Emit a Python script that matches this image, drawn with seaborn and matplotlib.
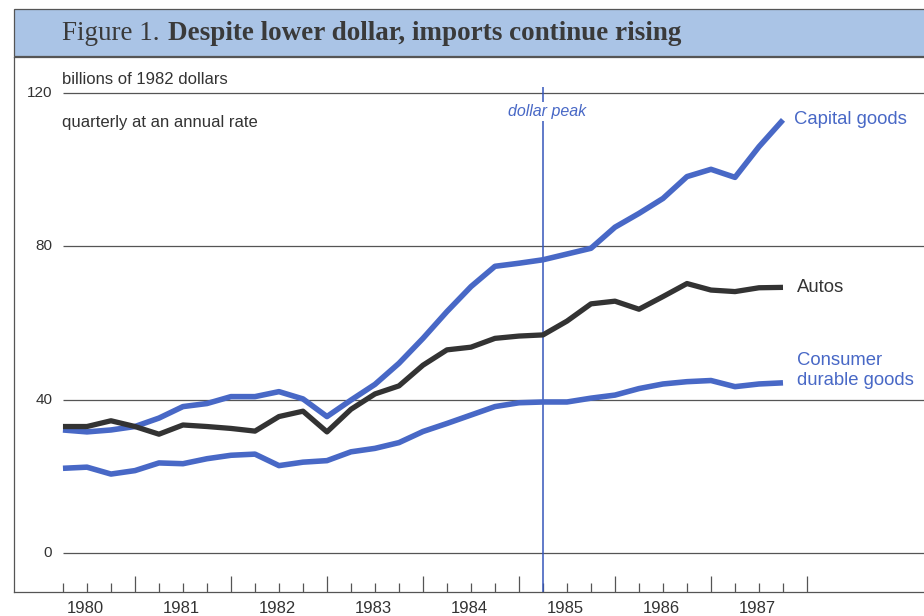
import numpy as np
import pandas as pd
import matplotlib
matplotlib.use("Agg")
import matplotlib.pyplot as plt
import seaborn as sns
from matplotlib.patches import Rectangle

# quarterly data, 1980Q1 .. 1987Q3, billions of 1982 dollars (annual rate)
quarters = list(range(31))
capital_goods = [32.1, 31.6, 32.1, 33.0, 35.2, 38.2, 39.0, 40.8, 40.8, 42.1,
                 40.2, 35.6, 39.9, 44.0, 49.5, 56.0, 63.0, 69.5, 74.8, 75.6,
                 76.5, 78.0, 79.5, 85.0, 88.6, 92.5, 98.2, 100.1, 98.0, 106.0,
                 113.0]
autos = [33.0, 33.0, 34.5, 33.0, 31.0, 33.4, 33.0, 32.5, 31.8, 35.6,
         37.0, 31.6, 37.5, 41.5, 43.6, 49.0, 53.0, 53.7, 56.0, 56.6,
         56.9, 60.5, 65.0, 65.7, 63.6, 66.9, 70.3, 68.6, 68.2, 69.2,
         69.3]
consumer_durables = [22.1, 22.4, 20.6, 21.5, 23.5, 23.3, 24.6, 25.5, 25.8, 22.8,
                     23.7, 24.1, 26.4, 27.3, 28.8, 31.7, 33.8, 36.0, 38.2, 39.2,
                     39.4, 39.4, 40.4, 41.2, 42.9, 44.1, 44.7, 45.0, 43.4, 44.1,
                     44.4]
years = [1980, 1981, 1982, 1983, 1984, 1985, 1986, 1987]
y_gridlines = [0, 40, 80, 120]
dollar_peak_quarter = 20  # 1985Q1

df = pd.DataFrame({"quarter": quarters, "Capital goods": capital_goods,
                   "Autos": autos, "Consumer durable goods": consumer_durables})

sns.set_theme(style="white")
plt.rcParams["font.family"] = ["Liberation Sans", "DejaVu Sans"]

BLUE = "#4868c6"
DARK = "#333333"
GRID = "#555555"

fig = plt.figure(figsize=(9.24, 6.16), dpi=100)
ax = fig.add_axes([14 / 924, 24 / 616, 1 - 14 / 924, 535 / 616])

# gridlines start at first quarter
ax.hlines(y_gridlines, 0, 36, color=GRID, lw=0.9, zorder=1)

sns.lineplot(data=df, x="quarter", y="Capital goods", color=BLUE, lw=4.0, ax=ax,
             solid_capstyle="butt", zorder=3)
sns.lineplot(data=df, x="quarter", y="Autos", color=DARK, lw=3.8, ax=ax,
             solid_capstyle="butt", zorder=3)
sns.lineplot(data=df, x="quarter", y="Consumer durable goods", color=BLUE, lw=4.0,
             ax=ax, solid_capstyle="butt", zorder=3)

ax.set_xlim(-2.04, 35.875)
ax.set_ylim(-10.17, 129.4)
ax.set_xlabel("")
ax.set_ylabel("")

# dollar peak marker
ax.vlines(dollar_peak_quarter, -10.17, 121.5, color="#3556bb", lw=1.1, zorder=2)
ax.text(dollar_peak_quarter + 0.15, 115.2, "dollar peak", color=BLUE, fontsize=11.5,
        style="italic", ha="center", va="center", zorder=4,
        bbox=dict(facecolor="white", edgecolor="none", pad=1.5))

# ticks: quarters small, year ends large
ax.set_xticks([q for q in range(32) if q % 4 == 3])
ax.set_xticks(list(range(32)), minor=True)
ax.tick_params(axis="x", which="major", direction="in", length=11.5, width=0.9,
               color=GRID, labelbottom=False, bottom=True)
ax.tick_params(axis="x", which="minor", direction="in", length=6.5, width=0.9,
               color=GRID, bottom=True)
ax.set_yticks([])

for i, yr in enumerate(years):
    ax.text(4 * i + 0.95, -0.03, str(yr), transform=ax.get_xaxis_transform(),
            ha="center", va="center", fontsize=12, color=DARK, clip_on=False)

for v in y_gridlines:
    ax.text(-0.45, v, str(v), ha="right", va="center", fontsize=11, color=DARK)

ax.text(-0.05, 123.4, "billions of 1982 dollars", fontsize=12, color=DARK,
        va="center", ha="left")
ax.text(-0.05, 112.4, "quarterly at an annual rate", fontsize=12, color=DARK,
        va="center", ha="left")

# series labels
ax.text(30.46, 113, "Capital goods", color=BLUE, fontsize=13.3, va="center")
ax.text(30.58, 69.2, "Autos", color=DARK, fontsize=13.3, va="center")
ax.text(30.58, 47.7, "Consumer\ndurable goods", color=BLUE, fontsize=13.3,
        va="center", linespacing=1.22)

for side in ["left", "bottom", "top"]:
    ax.spines[side].set_color(GRID)
    ax.spines[side].set_linewidth(0.9)
ax.spines["right"].set_visible(False)

# title band
fig.patches.append(Rectangle((14 / 924, (616 - 56) / 616), 1, 47 / 616,
                             transform=fig.transFigure, facecolor="#aac4e6",
                             edgecolor=GRID, lw=0.9, zorder=0))
t1 = fig.text(62 / 924, (616 - 34) / 616, "Figure 1.", fontsize=19.5,
              family=["Liberation Serif", "DejaVu Serif"], color="#3a3a3a",
              va="center", ha="left")
fig.canvas.draw()
bb = t1.get_window_extent()
fig.text((bb.x1 + 9) / 924, (616 - 34) / 616,
         "Despite lower dollar, imports continue rising", fontsize=19.5,
         family=["Liberation Serif", "DejaVu Serif"], weight="bold",
         color="#3a3a3a", va="center", ha="left")

fig.savefig("out.png", dpi=100)
